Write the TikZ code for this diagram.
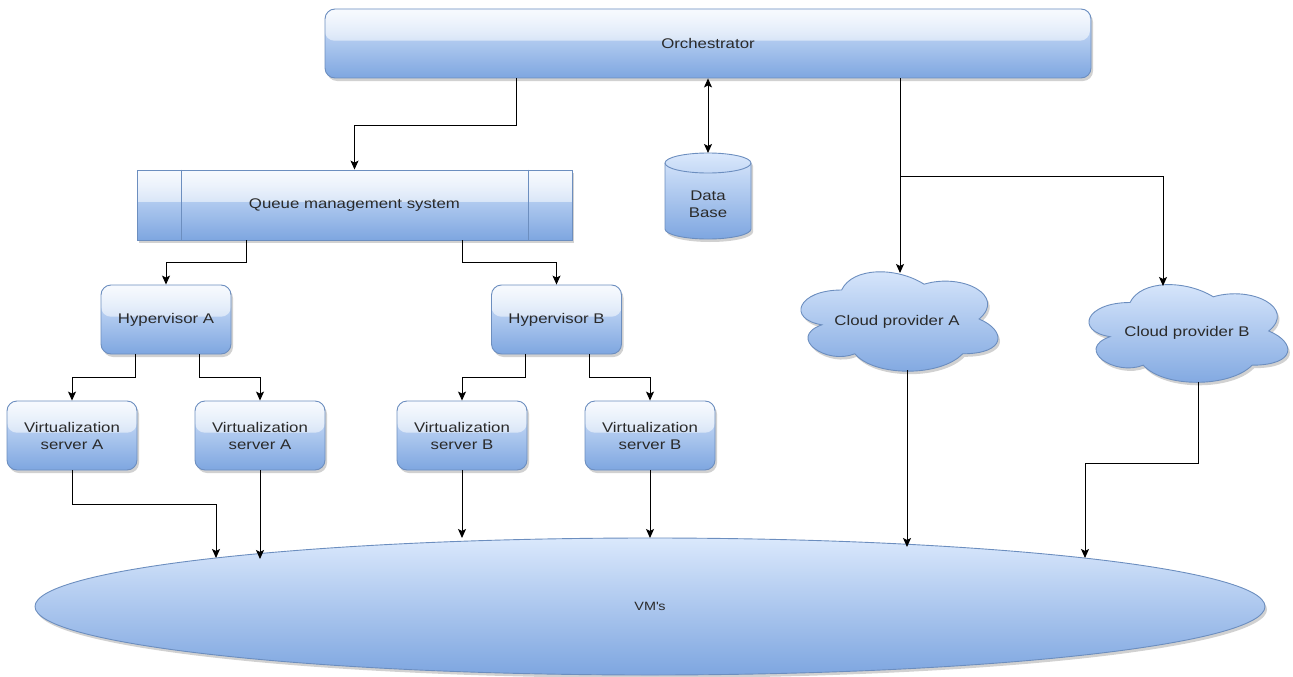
\documentclass[tikz,border=0pt]{standalone}
\usepackage{fontspec}
\setmainfont[FakeStretch=1.2]{Liberation Sans}
\usetikzlibrary{shapes.geometric,shadows,fadings,calc,arrows.meta}
\definecolor{fillTop}{HTML}{DAE8FC}
\definecolor{fillBot}{HTML}{7EA6E0}
\definecolor{strokeC}{HTML}{6C8EBF}
\definecolor{txt}{HTML}{2A2A2A}
\tikzfading[name=glassfade, top color=transparent!20, bottom color=transparent!82]
\tikzset{
  shad/.style={drop shadow={shadow xshift=2pt, shadow yshift=-3pt, opacity=0.3, fill=black!60}},
  grad/.style={top color=fillTop, bottom color=fillBot, draw=strokeC, line width=0.9pt},
  glass/.style={path picture={\fill[white, path fading=glassfade] (path picture bounding box.north west) rectangle ($(path picture bounding box.north east)!0.46!(path picture bounding box.south east)$);}},
  lbl/.style={font=\fontsize{14}{17}\selectfont, text=txt, align=center, inner sep=0pt},
  box/.style={rectangle, rounded corners=10pt, grad, glass, shad, lbl},
  arr/.style={-{Stealth[length=9pt,width=8pt,inset=2pt]}, line width=1pt, draw=black},
  arrb/.style={{Stealth[length=9pt,width=8pt,inset=2pt]}-{Stealth[length=9pt,width=8pt,inset=2pt]}, line width=1pt, draw=black}
}
% cloud outline: x0, y0, w, h (draw.io cloud geometry)
\newcommand\mycloud[4]{%
  \path[grad, shad] ({#1+0.25*#3},{#2+0.25*#4})
   .. controls ({#1+0.05*#3},{#2+0.25*#4}) and ({#1},{#2+0.5*#4}) .. ({#1+0.16*#3},{#2+0.55*#4})
   .. controls ({#1},{#2+0.66*#4}) and ({#1+0.18*#3},{#2+0.9*#4}) .. ({#1+0.31*#3},{#2+0.8*#4})
   .. controls ({#1+0.4*#3},{#2+#4}) and ({#1+0.7*#3},{#2+#4}) .. ({#1+0.8*#3},{#2+0.8*#4})
   .. controls ({#1+#3},{#2+0.8*#4}) and ({#1+#3},{#2+0.6*#4}) .. ({#1+0.875*#3},{#2+0.5*#4})
   .. controls ({#1+#3},{#2+0.3*#4}) and ({#1+0.8*#3},{#2+0.1*#4}) .. ({#1+0.625*#3},{#2+0.2*#4})
   .. controls ({#1+0.5*#3},{#2+0.05*#4}) and ({#1+0.3*#3},{#2+0.05*#4}) .. ({#1+0.25*#3},{#2+0.25*#4}) -- cycle;}
\begin{document}
\begin{tikzpicture}[x=1pt,y=-1pt]
\useasboundingbox (0,0) rectangle (1293,677);
% nodes
\node[box, minimum width=766pt, minimum height=69pt] (orch) at (708,43.5) {Orchestrator};
\node[box, sharp corners, minimum width=435pt, minimum height=70pt] (queue) at (354.5,205) {Queue management system};
\draw[strokeC, line width=0.9pt] (queue.north -| 181,0) -- (queue.south -| 181,0);
\draw[strokeC, line width=0.9pt] (queue.north -| 528,0) -- (queue.south -| 528,0);
% database cylinder
\path[grad, shad] (665,163) -- (665,229) arc[start angle=180, end angle=360, x radius=43pt, y radius=10pt] -- (751,163) arc[start angle=0, end angle=180, x radius=43pt, y radius=10pt] -- cycle;
\draw[strokeC, line width=0.9pt] (665,163) arc[start angle=180, end angle=360, x radius=43pt, y radius=10pt];
\node[lbl] (db) at (708,204) {Data\\Base};
\coordinate (dbtop) at (708,153);
% clouds
\mycloud{786.6}{261}{220}{116}
\node[lbl] (cloudA) at (897,322) {Cloud provider A};
\mycloud{1074.5}{274}{222}{114}
\node[lbl] (cloudB) at (1187,333) {Cloud provider B};
\coordinate (cAtop) at (900,273);
\coordinate (cAbot) at (907,370);
\coordinate (cBtop) at (1163,286);
\coordinate (cBbot) at (1198,382);
% hypervisors
\node[box, minimum width=130pt, minimum height=69pt] (hypA) at (166,319.5) {Hypervisor A};
\node[box, minimum width=130pt, minimum height=69pt] (hypB) at (556.5,319.5) {Hypervisor B};
% virtualization servers
\node[box, minimum width=130pt, minimum height=69pt] (vsa1) at (72,435.5) {Virtualization\\server A};
\node[box, minimum width=130pt, minimum height=69pt] (vsa2) at (260,435.5) {Virtualization\\server A};
\node[box, minimum width=130pt, minimum height=69pt] (vsb1) at (462,435.5) {Virtualization\\server B};
\node[box, minimum width=130pt, minimum height=69pt] (vsb2) at (650,435.5) {Virtualization\\server B};
% VMs
\node[ellipse, grad, shad, minimum width=1230pt, minimum height=137pt, inner sep=0pt, font=\fontsize{12}{14}\selectfont, text=txt] (vms) at (650,606.5) {VM\textquotesingle s};
\coordinate (e1) at (216,558);
\coordinate (e2) at (260,559);
\coordinate (e3) at (462,538);
\coordinate (e4) at (650,538);
\coordinate (e5) at (907,547);
\coordinate (e6) at (1085,558);
% connectors
\draw[arr] (orch.south -| 516,0) -- (516,125) -| (queue.north);
\draw[arrb] (dbtop) -- (orch.south -| dbtop);
\draw[arr] (orch.south -| cAtop) -- (cAtop);
\draw[arr] (cAtop |- 0,176) -| (cBtop);
\draw[arr] (queue.south -| 246,0) -- (246,262) -| (hypA.north);
\draw[arr] (queue.south -| 462,0) -- (462,262) -| (hypB.north);
\draw[arr] (hypA.south -| 135,0) -- (135,377) -| (vsa1.north);
\draw[arr] (hypA.south -| 199,0) -- (199,377) -| (vsa2.north);
\draw[arr] (hypB.south -| 525,0) -- (525,377) -| (vsb1.north);
\draw[arr] (hypB.south -| 589,0) -- (589,377) -| (vsb2.north);
\draw[arr] (vsa1.south) -- (72,504) -| (e1);
\draw[arr] (vsa2.south) -- (e2);
\draw[arr] (vsb1.south) -- (e3);
\draw[arr] (vsb2.south) -- (e4);
\draw[arr] (cAbot) -- (e5);
\draw[arr] (cBbot) -- (1198,463) -| (e6);
\end{tikzpicture}
\end{document}
